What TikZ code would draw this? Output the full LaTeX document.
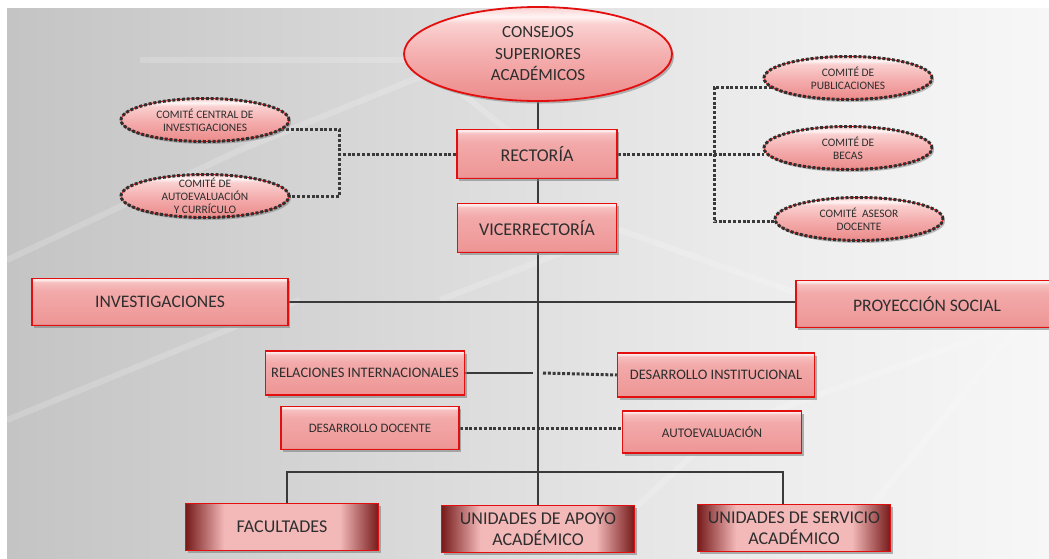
\documentclass[tikz,border=0pt]{standalone}
\usepackage{fontspec}
\setmainfont{Carlito}
\usetikzlibrary{shapes.geometric,shadows}

\definecolor{boxred}{HTML}{E30F0F}
\definecolor{boxb}{HTML}{C45E5E}
\definecolor{boxl}{HTML}{EE9696}
\definecolor{boxm}{HTML}{F3AAAA}
\definecolor{boxu}{HTML}{F7C0C0}
\definecolor{boxhi}{HTML}{FDEAEA}
\definecolor{maroon}{HTML}{761A1A}
\definecolor{pinkmid}{HTML}{F3B8B8}
\definecolor{ellb}{HTML}{EC8A8A}
\definecolor{ellm}{HTML}{F5B0B0}
\definecolor{ellu}{HTML}{FAD0D0}
\definecolor{ellhi}{HTML}{FFF4F4}
\definecolor{bgdark}{HTML}{C4C4C4}
\definecolor{bgmid}{HTML}{DADADA}
\definecolor{bglite}{HTML}{EBEBEB}
\definecolor{bgend}{HTML}{F7F7F7}
\definecolor{linegray}{HTML}{3A3A3A}
\definecolor{dotgray}{HTML}{303030}
\definecolor{txtgray}{HTML}{2E2E2E}

\pgfdeclareverticalshading{boxfade}{100bp}{color(0bp)=(boxb); color(25bp)=(boxb); color(27bp)=(boxl); color(62bp)=(boxm); color(71bp)=(boxu); color(73.5bp)=(boxhi); color(75bp)=(boxhi); color(100bp)=(boxhi)}
\pgfdeclarehorizontalshading{basefade}{100bp}{color(0bp)=(maroon); color(25bp)=(maroon); color(35bp)=(pinkmid); color(65bp)=(pinkmid); color(75bp)=(maroon); color(100bp)=(maroon)}
\pgfdeclareverticalshading{ellfade}{100bp}{color(0bp)=(ellb); color(25bp)=(ellb); color(50bp)=(ellm); color(66bp)=(ellu); color(70bp)=(ellhi); color(75bp)=(ellu); color(100bp)=(ellu)}
\pgfdeclarehorizontalshading{bgfade}{100bp}{color(0bp)=(bgdark); color(25bp)=(bgdark); color(45bp)=(bgmid); color(60bp)=(bglite); color(75bp)=(bgend); color(100bp)=(bgend)}

\pgfdeclarelayer{backdrop}
\pgfdeclarelayer{lines}
\pgfsetlayers{backdrop,lines,main}

\newcommand\fsz[2]{\fontsize{#1}{#2}\selectfont}

\begin{document}
\begin{tikzpicture}[x=1pt, y=-1pt,
	unitbox/.style={rectangle, draw=boxred, line width=1.5pt, shading=boxfade,
		text=txtgray, align=center, inner sep=0pt,
		drop shadow={shadow xshift=2pt, shadow yshift=-2.5pt, opacity=.6}},
	basebox/.style={unitbox, shading=basefade, minimum width=193pt,
		minimum height=47pt, font=\fsz{18}{21}},
	topell/.style={ellipse, draw=boxred, line width=1.8pt, shading=ellfade,
		text=txtgray, align=center, inner sep=0pt, minimum width=268pt,
		minimum height=94pt, font=\fsz{17}{21.5},
		drop shadow={shadow xshift=2pt, shadow yshift=-2.5pt, opacity=.55}},
	comell/.style={ellipse, draw=boxred, line width=.8pt, shading=ellfade,
		postaction={draw=dotgray, line width=3pt, dash pattern=on 3pt off 1.8pt},
		text=txtgray, align=center, inner xsep=0pt, inner ysep=-8pt,
		minimum width=168pt, minimum height=43pt, font=\fsz{11.4}{12.8},
		drop shadow={shadow xshift=2pt, shadow yshift=-2.5pt, opacity=.5}},
	conn/.style={draw=linegray, line width=2.8pt},
	dotconn/.style={draw=linegray, line width=3pt, dash pattern=on 3pt off 1.8pt}
]
	\useasboundingbox (0,0) rectangle (1049,558);

	%backdrop
	\begin{pgfonlayer}{backdrop}
		\fill[white] (0,0) rectangle (1049,558);
		\shade[shading=bgfade] (7,8) rectangle (1049,558);
		\begin{scope}[white, opacity=.18, line width=6pt]
			\draw (7,260) -- (240,150) -- (560,20);
			\draw (140,60) -- (420,60) -- (520,140);
			\draw (7,420) -- (300,300);
			\draw (440,300) -- (620,230) -- (900,330);
			\draw (600,540) -- (720,430) -- (1000,330);
			\draw (860,520) -- (1040,300);
		\end{scope}
	\end{pgfonlayer}

	%top
	\node[topell] (consejos) at (538,54) {CONSEJOS\\SUPERIORES\\ACADÉMICOS};
	\node[unitbox, minimum width=160pt, minimum height=49pt, font=\fsz{18}{21}]
		(rect) at (537,154) {RECTORÍA};
	\node[unitbox, minimum width=159pt, minimum height=49pt, font=\fsz{18}{21}]
		(vice) at (537,228) {VICERRECTORÍA};

	%comites
	\node[comell] (cinv) at (205,120) {COMITÉ CENTRAL DE\\INVESTIGACIONES};
	\node[comell] (cauto) at (205,196) {COMITÉ DE\\AUTOEVALUACIÓN\\Y CURRÍCULO};
	\node[comell] (cpub) at (848,78) {COMITÉ DE\\PUBLICACIONES};
	\node[comell] (cbec) at (848,148) {COMITÉ DE\\BECAS};
	\node[comell] (cases) at (859,219) {COMITÉ\ \ ASESOR\\DOCENTE};

	%middle
	\node[unitbox, minimum width=256pt, minimum height=47pt, font=\fsz{17.6}{20}]
		(inv) at (160,302) {INVESTIGACIONES};
	\node[unitbox, minimum width=262pt, minimum height=47pt, font=\fsz{17.6}{20}]
		(proy) at (927,304) {PROYECCIÓN SOCIAL};
	\node[unitbox, minimum width=199pt, minimum height=44pt, font=\fsz{14.5}{17}]
		(relint) at (365,373) {RELACIONES INTERNACIONALES};
	\node[unitbox, minimum width=197pt, minimum height=44pt, font=\fsz{14.5}{17}]
		(desinst) at (716,375) {DESARROLLO INSTITUCIONAL};
	\node[unitbox, minimum width=178pt, minimum height=43pt, font=\fsz{12.9}{15}]
		(desdoc) at (370,428) {DESARROLLO DOCENTE};
	\node[unitbox, minimum width=179pt, minimum height=42pt, font=\fsz{13.2}{15}]
		(autoev) at (712,432) {AUTOEVALUACIÓN};

	%bottom
	\node[basebox] (fac) at (282,527) {FACULTADES};
	\node[basebox] (apoyo) at (538,529) {UNIDADES DE APOYO\\ACADÉMICO};
	\node[basebox] (serv) at (794,528) {UNIDADES DE SERVICIO\\ACADÉMICO};

	\coordinate (lbrk) at (339,154);
	\coordinate (rbrk) at (714,154);
	\coordinate (barl) at (287,472);
	\coordinate (barr) at (783,472);

	%paths
	\begin{pgfonlayer}{lines}
		\draw[conn] (consejos.south) -- (apoyo.north);
		\draw[conn] (inv.east) -- (inv.east -| proy.west);
		\draw[conn] (relint.east) -- ([xshift=-4pt]relint.east -| vice.south);
		\draw[conn] (fac.north -| barl) -- (barl) -- (barr) -- (serv.north -| barr);

		\draw[dotconn] (rect.west) -- (lbrk);
		\draw[dotconn] (cinv.-7) -| (lbrk) |- (cauto.east);
		\draw[dotconn] (rect.east) -- (rect.east -| cbec.west);
		\draw[dotconn] (cpub.187) -| (rbrk) |- (cases.182);
		\draw[dotconn] ([xshift=6pt]relint.east -| vice.south) -- (desinst.west);
		\draw[dotconn] (desdoc.east) -- (desdoc.east -| autoev.west);
	\end{pgfonlayer}

\end{tikzpicture}
\end{document}
